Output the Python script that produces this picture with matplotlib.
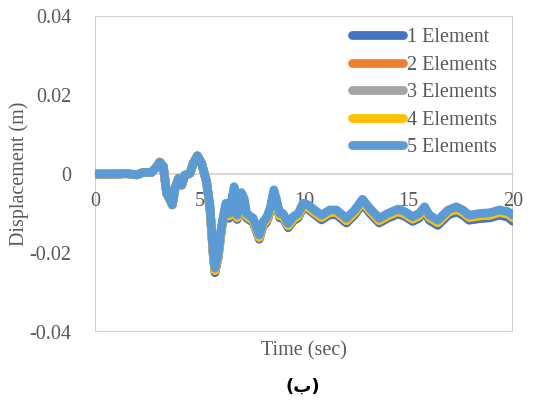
"""Displacement time history for different element counts"""
import matplotlib.pyplot as plt
from matplotlib.patches import Rectangle

# data
t = [0, 1.0, 1.5, 2.0, 2.3, 2.7, 2.95, 3.1, 3.27, 3.43, 3.6, 3.7, 3.83, 4.0,
     4.15, 4.3, 4.55, 4.7, 4.9, 5.1, 5.34, 5.5, 5.66, 5.74, 5.9, 6.05, 6.26,
     6.42, 6.66, 6.8, 7.0, 7.14, 7.25, 7.57, 7.86, 8.05, 8.2, 8.4, 8.56, 8.69,
     8.84, 9.0, 9.24, 9.48, 9.72, 9.96, 10.2, 10.5, 10.84, 11.23, 11.55, 12.03,
     12.43, 12.8, 13.15, 13.6, 14.0, 14.5, 14.82, 15.2, 15.5, 15.77, 16.0,
     16.4, 16.9, 17.29, 17.6, 17.9, 18.4, 18.9, 19.35, 19.75, 20.0]

d5 = [0, 0, 0.0001, -0.0002, 0.0004, 0.0004, 0.0018, 0.0030, 0.0019, -0.0049,
      -0.0066, -0.0078, -0.0036, -0.0011, -0.0028, -0.0003, 0.0002, 0.0027,
      0.0046, 0.0027, -0.0020, -0.0083, -0.0200, -0.0238, -0.0200, -0.0133,
      -0.0074, -0.0100, -0.0032, -0.0104, -0.0047, -0.0062, -0.0100, -0.0112,
      -0.0154, -0.0120, -0.0112, -0.0083, -0.0040, -0.0066, -0.0100, -0.0100,
      -0.0125, -0.0108, -0.0100, -0.0074, -0.0078, -0.0091, -0.0104, -0.0091,
      -0.0091, -0.0112, -0.0091, -0.0064, -0.0087, -0.0112, -0.0100, -0.0089,
      -0.0095, -0.0108, -0.0100, -0.0083, -0.0104, -0.0117, -0.0091, -0.0083,
      -0.0091, -0.0104, -0.0100, -0.0098, -0.0091, -0.0095, -0.0104]

d1 = [0, 0, 0.0001, -0.0002, 0.0004, 0.0004, 0.0018, 0.0030, 0.0019, -0.0049,
      -0.0066, -0.0078, -0.0036, -0.0011, -0.0028, -0.0003, 0.0002, 0.0027,
      0.0046, 0.0027, -0.0021, -0.0086, -0.0207, -0.0250, -0.0210, -0.0142,
      -0.0084, -0.0112, -0.0042, -0.0115, -0.0057, -0.0072, -0.0111, -0.0123,
      -0.0165, -0.0131, -0.0123, -0.0094, -0.0050, -0.0076, -0.0111, -0.0111,
      -0.0136, -0.0119, -0.0111, -0.0085, -0.0089, -0.0102, -0.0116, -0.0103,
      -0.0103, -0.0124, -0.0103, -0.0076, -0.0099, -0.0124, -0.0112, -0.0101,
      -0.0107, -0.0120, -0.0112, -0.0095, -0.0117, -0.0130, -0.0104, -0.0096,
      -0.0104, -0.0117, -0.0113, -0.0111, -0.0104, -0.0109, -0.0120]

# 2, 3 and 4 elements overlap at this resolution
d2 = [0, 0, 0.0001, -0.0002, 0.0004, 0.0004, 0.0018, 0.0030, 0.0019, -0.0049,
      -0.0066, -0.0078, -0.0036, -0.0011, -0.0028, -0.0003, 0.0002, 0.0027,
      0.0046, 0.0027, -0.0020, -0.0085, -0.0204, -0.0244, -0.0205, -0.0138,
      -0.0080, -0.0106, -0.0038, -0.0110, -0.0053, -0.0068, -0.0106, -0.0118,
      -0.0160, -0.0126, -0.0118, -0.0089, -0.0046, -0.0072, -0.0106, -0.0106,
      -0.0131, -0.0114, -0.0106, -0.0080, -0.0084, -0.0097, -0.0110, -0.0097,
      -0.0097, -0.0118, -0.0097, -0.0070, -0.0093, -0.0118, -0.0106, -0.0095,
      -0.0101, -0.0114, -0.0106, -0.0089, -0.0110, -0.0123, -0.0097, -0.0089,
      -0.0097, -0.0110, -0.0106, -0.0104, -0.0097, -0.0101, -0.0111]
d3 = d2
d4 = d2

labels = ["1 Element", "2 Elements", "3 Elements", "4 Elements", "5 Elements"]
colors = ["#4472C4", "#ED7D31", "#A5A5A5", "#FFC000", "#5B9BD5"]

plt.rcParams["font.family"] = ["Liberation Serif", "DejaVu Serif"]
grey = "#595959"
fs = 14.5

fig = plt.figure(figsize=(5.51, 4.01), dpi=100)
ax = fig.add_axes([0.1724, 0.172, 0.7586, 0.788])

for d, lab, c in zip([d1, d2, d3, d4, d5], labels, colors):
    ax.plot(t, d, color=c, lw=6.3, label=lab,
            solid_joinstyle="round", solid_capstyle="round")

ax.set_xlim(0, 20)
ax.set_ylim(-0.04, 0.04)
ax.set_xticks([0, 5, 10, 15, 20])
ax.set_xticklabels(["0", "5", "10", "15", "20"])
ax.set_yticks([-0.04, -0.02, 0, 0.02, 0.04])
ax.set_yticklabels(["-0.04", "-0.02", "0", "0.02", "0.04"])

# axis line crosses at zero, plot area gets a grey border
for s in ["top", "right", "left"]:
    ax.spines[s].set_visible(False)
ax.spines["bottom"].set_position(("data", 0))
ax.spines["bottom"].set_color("#D9D9D9")
ax.spines["bottom"].set_linewidth(1.5)
ax.spines["bottom"].set_zorder(0.5)
ax.add_patch(Rectangle((0, 0), 1, 1, transform=ax.transAxes, fill=False,
                       edgecolor="#D0D0D0", lw=1.5, zorder=0.5))

ax.tick_params(axis="both", length=0, labelsize=fs, colors=grey)
ax.tick_params(axis="x", pad=13)
ax.tick_params(axis="y", pad=17)

ax.set_xlabel("Time (sec)", fontsize=fs, color=grey)
ax.xaxis.set_label_coords(0.5, -0.03)
ax.set_ylabel("Displacement (m)", fontsize=fs, color=grey)
ax.yaxis.set_label_coords(-0.157, 0.5)

leg = ax.legend(loc="upper right", frameon=False, fontsize=fs,
                handlelength=2.5, handletextpad=0.2, labelspacing=0.42,
                borderaxespad=0.2, bbox_to_anchor=(0.99, 1.0))
for txt in leg.get_texts():
    txt.set_color(grey)
for ln in leg.get_lines():
    ln.set_linewidth(6.3)

fig.text(0.55, 0.035, "(ب)", ha="center", va="center", fontsize=13,
         fontweight="bold", family=["DejaVu Sans"])

fig.savefig("out.png", dpi=100)
